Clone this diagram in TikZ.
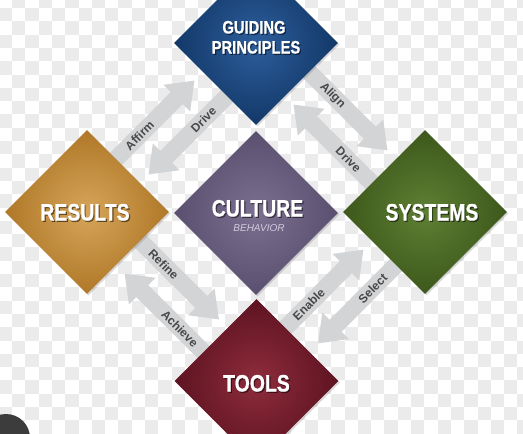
\documentclass[tikz,border=0pt]{standalone}
\usepackage{fontspec}
\setmainfont{Liberation Sans}
\newfontfamily\condfont[FakeStretch=0.82, BoldFeatures={FakeBold=0.8}]{Liberation Sans}
\usetikzlibrary{shapes.geometric,arrows.meta,calc,shadows}
\definecolor{checker}{HTML}{EBEBEB}
\definecolor{flowgray}{HTML}{D3D4D6}
\definecolor{labgray}{HTML}{484848}
\definecolor{gpin}{HTML}{2D5E9C}
\definecolor{gpout}{HTML}{123868}
\definecolor{culin}{HTML}{7B7090}
\definecolor{culout}{HTML}{5A4F6E}
\definecolor{resin}{HTML}{D6A55A}
\definecolor{resout}{HTML}{B07828}
\definecolor{sysin}{HTML}{5E8034}
\definecolor{sysout}{HTML}{3D581B}
\definecolor{toolin}{HTML}{8E2C3C}
\definecolor{toolout}{HTML}{5E1321}
\definecolor{behav}{HTML}{D2CADF}
\definecolor{iconcol}{HTML}{3C3C3C}
\tikzset{
  dia/.style={diamond, aspect=1, minimum width=164pt, minimum height=164pt, inner sep=0pt,
    drop shadow={opacity=0.3, shadow xshift=1.5pt, shadow yshift=-1.5pt}},
  flow/.style={draw=flowgray, line width=17pt, -{Triangle[width=36pt,length=25pt]},
    shorten >=12pt, shorten <=-4pt},
  flab/.style={sloped, pos=0.27, text=labgray, inner sep=0pt,
    font=\bfseries\fontsize{12}{12}\selectfont},
  big/.style={text=white, anchor=base, inner sep=0pt,
    font=\condfont\bfseries\fontsize{23.7}{24}\selectfont},
  mid/.style={text=white, anchor=base, inner sep=0pt,
    font=\condfont\bfseries\fontsize{18}{20}\selectfont},
  tshadow/.style={text=black, text opacity=0.45}
}
\newcommand\flowarrow[3]{%
  \draw[flow] ($(#1)!17pt!90:(#2)$) -- node[flab] {#3} ($(#2)!17pt!-90:(#1)$);}
\newcommand\dtext[4]{%
  \node[#3, tshadow] (#1s) at ($(#2)+(1.2,1.3)$) {#4};
  \node[#3] (#1) at (#2) {#4};}
\begin{document}
\begin{tikzpicture}[x=1pt,y=-1pt]
\useasboundingbox (0,0) rectangle (523,434);
\begin{scope}
\clip (0,0) rectangle (523,434);
\fill[white] (0,0) rectangle (523,434);
\foreach \c in {0,...,40}{\foreach \r in {0,...,33}{%
  \pgfmathtruncatemacro\s{\c+\r}%
  \ifodd\s \fill[checker] ({-1.3+13.3*\c},{-5.3+13.3*\r}) rectangle +(13.3,13.3);\fi}}
% anchor points of the diamonds
\path (256,43) coordinate (gpc) (87,212) coordinate (resc) (256,213) coordinate (culc)
      (425,212) coordinate (sysc) (256.5,381) coordinate (toolc);
\path (gpc)+(-41,41) coordinate (gpSW) (gpc)+(41,41) coordinate (gpSE);
\path (resc)+(41,-41) coordinate (resNE) (resc)+(41,41) coordinate (resSE);
\path (sysc)+(-41,-41) coordinate (sysNW) (sysc)+(-41,41) coordinate (sysSW);
\path (toolc)+(-41,-41) coordinate (toolNW) (toolc)+(41,-41) coordinate (toolNE);
% arrows
\flowarrow{resNE}{gpSW}{Affirm}
\flowarrow{gpSW}{resNE}{Drive}
\flowarrow{gpSE}{sysNW}{Align}
\flowarrow{sysNW}{gpSE}{Drive}
\flowarrow{resSE}{toolNW}{Refine}
\flowarrow{toolNW}{resSE}{Achieve}
\flowarrow{toolNE}{sysSW}{Enable}
\flowarrow{sysSW}{toolNE}{Select}
% diamonds
\node[dia, inner color=gpin, outer color=gpout] (gp) at (gpc) {};
\node[dia, inner color=resin, outer color=resout] (res) at (resc) {};
\node[dia, inner color=culin, outer color=culout] (cul) at (culc) {};
\node[dia, inner color=sysin, outer color=sysout] (sys) at (sysc) {};
\node[dia, inner color=toolin, outer color=toolout] (tool) at (toolc) {};
% texts
\dtext{gpA}{254,33.5}{mid}{GUIDING}
\dtext{gpB}{256,53.5}{mid}{PRINCIPLES}
\dtext{resT}{85,220.5}{big}{RESULTS}
\dtext{culT}{257.5,216.5}{big}{CULTURE}
\node[anchor=base, inner sep=0pt, text=behav, font=\itshape\fontsize{10}{10}\selectfont] (behT) at (259,231.5) {BEHAVIOR};
\dtext{sysT}{432,220.5}{big}{SYSTEMS}
\dtext{toolT}{256.5,391.5}{big}{TOOLS}
% corner icon
\fill[iconcol] (6,438) circle[radius=24pt];
\end{scope}
\end{tikzpicture}
\end{document}
